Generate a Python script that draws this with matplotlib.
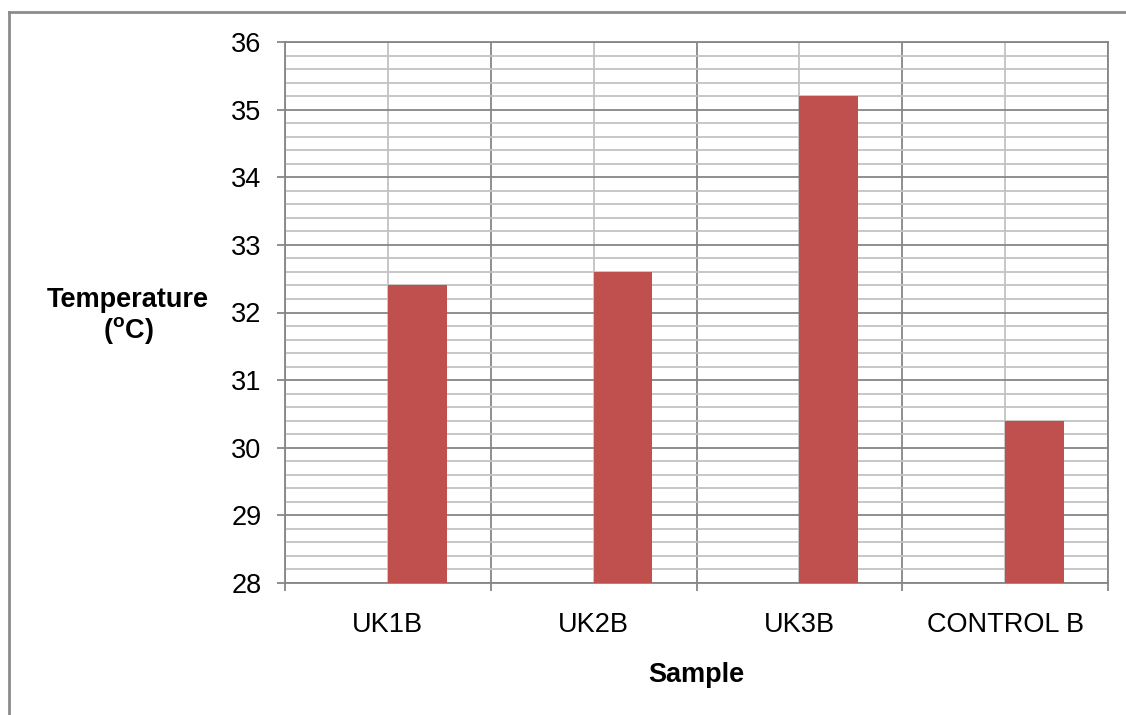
import matplotlib
matplotlib.use('Agg')
import matplotlib.pyplot as plt
from matplotlib.ticker import MultipleLocator, FixedLocator
from matplotlib.lines import Line2D

plt.rcParams['font.family'] = ['Liberation Sans', 'DejaVu Sans']
plt.rcParams['mathtext.fontset'] = 'custom'
plt.rcParams['mathtext.rm'] = 'Liberation Sans'
plt.rcParams['mathtext.bf'] = 'Liberation Sans:bold'

# datos
samples = ['UK1B', 'UK2B', 'UK3B', 'CONTROL B']
temps = [32.4, 32.6, 35.2, 30.4]

bar_w = 0.286
dark = '#868686'
light = '#c3c3c3'
fs = 19.5

fig = plt.figure(figsize=(11.26, 7.15), dpi=100)
ax = fig.add_axes([285 / 1126, 1 - 583 / 715, (1108 - 285) / 1126, (583 - 42) / 715])

x = list(range(len(samples)))
# la barra ocupa la segunda posicion del grupo (primera serie vacia)
ax.bar([i + bar_w / 2 for i in x], temps, width=bar_w, color='#c0504d', zorder=3)

ax.set_ylim(28, 36)
ax.set_xlim(-0.5, len(samples) - 0.5)
ax.yaxis.set_major_locator(MultipleLocator(1))
ax.yaxis.set_minor_locator(MultipleLocator(0.2))
ax.set_xticks(x)
ax.set_xticklabels(samples)
ax.xaxis.set_minor_locator(FixedLocator([i - 0.5 for i in range(len(samples) + 1)]))

# cuadricula
ax.grid(which='major', axis='y', color=dark, lw=1.3, zorder=1)
ax.grid(which='minor', axis='y', color=light, lw=1.3, zorder=0)
ax.grid(which='minor', axis='x', color=dark, lw=1.3, zorder=1)
ax.grid(which='major', axis='x', color=light, lw=1.3, zorder=0)
ax.set_axisbelow(True)

for s in ax.spines.values():
    s.set_color(dark)
    s.set_linewidth(1.3)

ax.tick_params(axis='y', which='major', length=6, width=1.3, color=dark,
               labelsize=fs, pad=11)
ax.tick_params(axis='y', which='minor', length=0)
ax.tick_params(axis='x', which='major', length=0, labelsize=fs, pad=21)
ax.tick_params(axis='x', which='minor', length=6, width=1.3, color=dark)

fig.text(696 / 1126, 1 - 675 / 715, 'Sample', ha='center', va='center',
         fontsize=fs, fontweight='bold')
fig.text(128 / 1126, 1 - 300 / 715, 'Temperature', ha='center', va='center',
         fontsize=fs, fontweight='bold')
fig.text(128 / 1126, 1 - 331 / 715, r'($\mathbf{^{o}}$C)', ha='center', va='center',
         fontsize=fs, fontweight='bold')

# marco exterior del grafico
fig.add_artist(Line2D([8.5 / 1126, 1], [1 - 12 / 715, 1 - 12 / 715],
                      transform=fig.transFigure, color='#8c8c8c', lw=2))
fig.add_artist(Line2D([8.5 / 1126, 8.5 / 1126], [0, 1 - 12 / 715],
                      transform=fig.transFigure, color='#8c8c8c', lw=2))

fig.savefig('out.png', dpi=100)
